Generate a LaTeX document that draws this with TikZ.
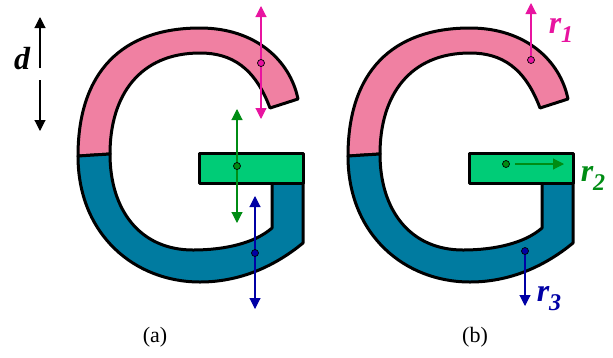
\documentclass[tikz,border=0pt]{standalone}
\usepackage{fontspec}
\setmainfont{Liberation Serif}
\usepackage{tikz}
\usetikzlibrary{arrows.meta, positioning}
\definecolor{gpink}{RGB}{240, 128, 162}
\definecolor{gblue}{RGB}{0, 123, 160}
\definecolor{ggreen}{RGB}{0, 204, 119}
\definecolor{vecmag}{RGB}{232, 20, 160}
\definecolor{vecgreen}{RGB}{0, 140, 20}
\definecolor{vecblue}{RGB}{0, 0, 165}

\tikzset{
    part/.style={draw=black, line width=3pt, line join=round},
    vec/.style={line width=1.1pt, -{Triangle[width=11pt, length=11pt]}},
    dvec/.style={line width=1.1pt, {Triangle[width=11pt, length=11pt]}-{Triangle[width=11pt, length=11pt]}},
    dot/.style={circle, draw, line width=0.7pt, inner sep=0pt, minimum size=7pt},
    vlabel/.style={inner sep=0pt, font=\fontsize{32}{32}\selectfont\bfseries\itshape},
    caption/.style={inner sep=0pt, font=\fontsize{22}{22}\selectfont},
}

% one letter G made of three parts
\newcommand{\letterG}[1]{%
    \begin{scope}[xshift=#1]
        \filldraw[part, fill=gpink] (78,156) .. controls (78,72) and (122,28) .. (200,28)
            .. controls (255,28) and (290,60) .. (298,99) -- (270,108)
            .. controls (255,68) and (232,53) .. (200,53)
            .. controls (140,53) and (110,95) .. (110,154) -- cycle;
        \filldraw[part, fill=gblue] (78,156) .. controls (78,235) and (135,282) .. (200,282)
            .. controls (245,282) and (280,262) .. (303,243) -- (303,183) -- (272,183) -- (272,228)
            .. controls (255,243) and (225,250) .. (193,250)
            .. controls (140,250) and (110,210) .. (110,154) -- cycle;
        \filldraw[part, fill=ggreen] (199,153) rectangle (303,183);
    \end{scope}%
}

\newcommand{\subnum}[1]{\raisebox{-9pt}{\fontsize{24}{24}\selectfont #1}}

\begin{document}
\begin{tikzpicture}[x=1pt, y=-1pt]
    \useasboundingbox (0,0) rectangle (613,357);

    \letterG{0pt}
    \letterG{270pt}

    % (a) thickness
    \coordinate (dup) at (40,68);
    \coordinate (ddown) at (40,80);
    \coordinate (dtop) at (40,17);
    \coordinate (dbot) at (40,131);
    \draw[vec] (dup) -- (dtop);
    \draw[vec] (ddown) -- (dbot);
    \node[vlabel] (dlabel) at (22,59) {d};

    \coordinate (a1top) at (261,6);
    \coordinate (a1bot) at (261,119);
    \draw[dvec, draw=vecmag, fill=vecmag] (a1top) -- (a1bot);
    \node[dot, fill=vecmag] (adot1) at (261,63) {};

    \coordinate (a2top) at (237,109);
    \coordinate (a2bot) at (237,223);
    \draw[dvec, draw=vecgreen, fill=vecgreen] (a2top) -- (a2bot);
    \node[dot, fill=vecgreen] (adot2) at (237,166) {};

    \coordinate (a3top) at (255,196);
    \coordinate (a3bot) at (255,309);
    \draw[dvec, draw=vecblue, fill=vecblue] (a3top) -- (a3bot);
    \node[dot, fill=vecblue] (adot3) at (255,253) {};

    % (b) directions
    \node[dot, fill=vecmag] (bdot1) at (531,60) {};
    \coordinate (b1end) at (531,3);
    \draw[vec, draw=vecmag, fill=vecmag] (bdot1) -- (b1end);
    \node[vlabel, text=vecmag] (r1) at (561,30) {r\subnum{1}};

    \node[dot, fill=vecgreen] (bdot2) at (506,164) {};
    \coordinate (b2end) at (564,164);
    \draw[vec, draw=vecgreen, fill=vecgreen, shorten <=5pt] (bdot2) -- (b2end);
    \node[vlabel, text=vecgreen] (r2) at (593,178) {r\subnum{2}};

    \node[dot, fill=vecblue] (bdot3) at (525,251) {};
    \coordinate (b3end) at (525,306);
    \draw[vec, draw=vecblue, fill=vecblue] (bdot3) -- (b3end);
    \node[vlabel, text=vecblue] (r3) at (549,299) {r\subnum{3}};

    \node[caption] (capa) at (155,337) {(a)};
    \node[caption] (capb) at (475,337) {(b)};
\end{tikzpicture}
\end{document}
